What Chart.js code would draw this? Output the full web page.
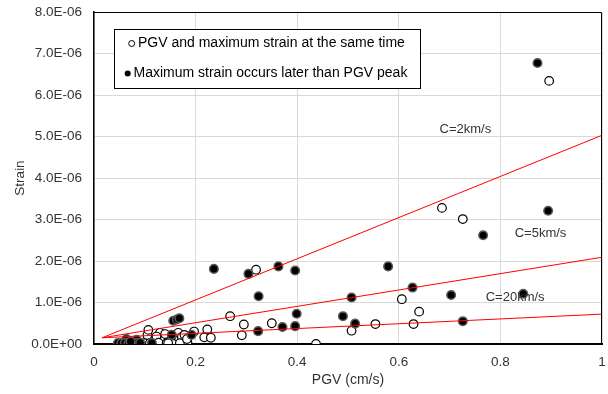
<!DOCTYPE html>
<html><head><meta charset="utf-8">
<script src="https://cdn.jsdelivr.net/npm/chart.js@4/dist/chart.umd.min.js"></script>
<style>html,body{margin:0;padding:0;background:#fff}#wrap{width:608px;height:394px}</style>
</head><body><div id="wrap"><canvas id="c" width="608" height="394"></canvas></div>
<script>
// ---- data ----
const seriesNames = ['PGV and maximum strain at the same time', 'Maximum strain occurs later than PGV peak'];
// open circles: PGV and maximum strain at the same time
const samePGV    = [0.896, 0.685, 0.726, 0.640, 0.606, 0.507, 0.554, 0.629, 0.319, 0.295, 0.291, 0.350, 0.437, 0.268, 0.223, 0.217, 0.230, 0.197, 0.184, 0.166, 0.173, 0.153, 0.156, 0.130, 0.105, 0.123, 0.140, 0.100, 0.110, 0.127, 0.143, 0.169, 0.146, 0.178, 0.183, 0.107];
const sameStrain = [6.34e-6, 3.28e-6, 3.01e-6, 0.78e-6, 1.08e-6, 0.32e-6, 0.48e-6, 0.48e-6, 1.79e-6, 0.47e-6, 0.21e-6, 0.50e-6, 0.00e-6, 0.67e-6, 0.35e-6, 0.16e-6, 0.15e-6, 0.30e-6, 0.03e-6, 0.27e-6, 0.17e-6, 0.20e-6, 0.00e-6, 0.27e-6, 0.21e-6, 0.18e-6, 0.24e-6, 0.02e-6, 0.02e-6, 0.03e-6, 0.02e-6, 0.02e-6, 0.02e-6, 0.22e-6, 0.12e-6, 0.34e-6];
// filled circles: maximum strain occurs later than PGV peak
const laterPGV    = [0.873, 0.894, 0.766, 0.703, 0.845, 0.726, 0.579, 0.507, 0.627, 0.490, 0.514, 0.236, 0.304, 0.363, 0.396, 0.324, 0.399, 0.323, 0.371, 0.396, 0.156, 0.163, 0.168, 0.192, 0.153, 0.084, 0.064, 0.047, 0.054, 0.061, 0.068, 0.075, 0.083, 0.091, 0.072, 0.114];
const laterStrain = [6.77e-6, 3.21e-6, 2.62e-6, 1.18e-6, 1.21e-6, 0.55e-6, 1.87e-6, 1.12e-6, 1.36e-6, 0.67e-6, 0.49e-6, 1.81e-6, 1.69e-6, 1.87e-6, 1.77e-6, 1.15e-6, 0.73e-6, 0.31e-6, 0.41e-6, 0.43e-6, 0.56e-6, 0.59e-6, 0.62e-6, 0.22e-6, 0.22e-6, 0.10e-6, 0.12e-6, 0.02e-6, 0.02e-6, 0.03e-6, 0.02e-6, 0.03e-6, 0.02e-6, 0.03e-6, 0.06e-6, 0.02e-6];
// reference lines strain = PGV / C
const lineNames = ['C=2km/s', 'C=5km/s', 'C=20km/s'];
const linePGV   = [0.016, 1];
const lineC2    = [0.15e-6, 5.03e-6];
const lineC5    = [0.15e-6, 2.09e-6];
const lineC20   = [0.15e-6, 0.72e-6];
// ticks
const xTicks = [0, 0.2, 0.4, 0.6, 0.8, 1];
const xTickLabels = ['0', '0.2', '0.4', '0.6', '0.8', '1'];
const yTicks = [0, 1e-6, 2e-6, 3e-6, 4e-6, 5e-6, 6e-6, 7e-6, 8e-6];
const yTickLabels = ['0.0E+00', '1.0E-06', '2.0E-06', '3.0E-06', '4.0E-06', '5.0E-06', '6.0E-06', '7.0E-06', '8.0E-06'];
const xTitle = 'PGV (cm/s)';
const yTitle = 'Strain';

// ---- build ----
const pts = (xs, ys) => xs.map((x, i) => ({x: x, y: ys[i]}));
const FONT = '"Liberation Sans", Arial, sans-serif';
const TXT = '#333333';

const lineDs = [lineC2, lineC5, lineC20].map((ys, i) => ({
  type: 'line', label: lineNames[i], data: pts(linePGV, ys),
  borderColor: '#ff0000', borderWidth: 1, pointRadius: 0, fill: false, order: 0
}));

const decor = {
  id: 'decor',
  afterDraw(chart) {
    const ctx = chart.ctx, a = chart.chartArea;
    const xs = chart.scales.x, ys = chart.scales.y;
    ctx.save();
    // top / right frame
    ctx.strokeStyle = '#000'; ctx.lineWidth = 1;
    ctx.beginPath();
    ctx.moveTo(a.left, a.top + 0.5); ctx.lineTo(a.right - 0.5, a.top + 0.5); ctx.lineTo(a.right - 0.5, a.bottom);
    ctx.stroke();
    // line labels anchored at data coordinates
    ctx.font = '13px ' + FONT; ctx.fillStyle = TXT; ctx.textAlign = 'center'; ctx.textBaseline = 'middle';
    const anchors = [[0.731, 5.17e-6], [0.879, 2.67e-6], [0.829, 1.12e-6]];
    anchors.forEach((p, i) => ctx.fillText(lineNames[i], xs.getPixelForValue(p[0]), ys.getPixelForValue(p[1])));
    // legend box
    ctx.fillStyle = '#fff'; ctx.strokeStyle = '#000'; ctx.lineWidth = 1;
    ctx.fillRect(114.5, 29.5, 306, 59); ctx.strokeRect(114.5, 29.5, 306, 59);
    ctx.font = '14px ' + FONT; ctx.textAlign = 'left'; ctx.fillStyle = '#000';
    // open marker
    ctx.beginPath(); ctx.arc(131.7, 43.5, 3, 0, Math.PI * 2); ctx.fillStyle = '#fff'; ctx.fill(); ctx.stroke();
    ctx.fillStyle = '#000'; ctx.fillText(seriesNames[0], 138, 43.5);
    // filled marker
    ctx.beginPath(); ctx.arc(127.7, 73.5, 3, 0, Math.PI * 2); ctx.fill();
    ctx.fillText(seriesNames[1], 133.5, 73.5);
    ctx.restore();
  }
};

new Chart(document.getElementById('c'), {
  type: 'scatter',
  data: {
    datasets: [
      ...lineDs,
      { label: seriesNames[0], data: pts(samePGV, sameStrain), pointRadius: 4.3, pointHoverRadius: 4.3,
        pointBackgroundColor: '#fff', pointBorderColor: '#000', pointBorderWidth: 1.2, order: 2 },
      { label: seriesNames[1], data: pts(laterPGV, laterStrain), pointRadius: 4.3, pointHoverRadius: 4.3,
        pointBackgroundColor: '#000', pointBorderColor: '#5a5a5a', pointBorderWidth: 1.5, order: 1 }
    ]
  },
  options: {
    responsive: false, animation: false, devicePixelRatio: 1,
    layout: { padding: { left: 12, right: 6, top: 12, bottom: 5 } },
    plugins: { legend: { display: false }, tooltip: { enabled: false } },
    scales: {
      x: {
        type: 'linear', min: 0, max: 1,
        afterBuildTicks: s => { s.ticks = xTicks.map(v => ({ value: v })); },
        afterFit: s => { s.height = 45; s.paddingLeft = 0; s.paddingRight = 0; },
        ticks: { callback: (v, i) => xTickLabels[i], font: { size: 13.5, family: FONT }, color: TXT, padding: 10, maxRotation: 0 },
        grid: { color: '#d9d9d9', lineWidth: 1, drawTicks: false },
        border: { color: '#000', width: 2 },
        title: { display: true, text: xTitle, font: { size: 14, family: FONT }, color: TXT, padding: 0 }
      },
      y: {
        type: 'linear', min: 0, max: 8e-6,
        afterBuildTicks: s => { s.ticks = yTicks.map(v => ({ value: v })); },
        afterFit: s => { s.width = 82; s.paddingTop = 0; s.paddingBottom = 0; },
        ticks: { callback: (v, i) => yTickLabels[i], font: { size: 13.5, family: FONT }, color: TXT, padding: 12 },
        grid: { color: '#d9d9d9', lineWidth: 1, drawTicks: false },
        border: { color: '#000', width: 1.5 },
        title: { display: true, text: yTitle, font: { size: 13.5, family: FONT }, color: TXT, padding: 0 }
      }
    }
  },
  plugins: [decor]
});
</script>
</body></html>
